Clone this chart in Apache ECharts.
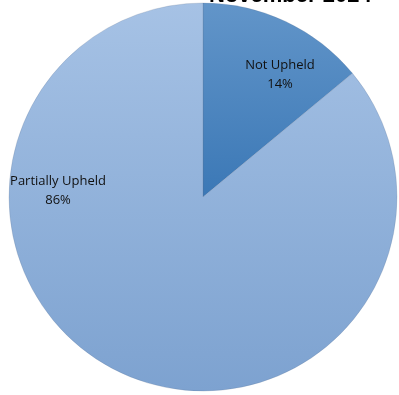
<!DOCTYPE html>
<html><head><meta charset="utf-8">
<script src="https://cdn.jsdelivr.net/npm/echarts@6/dist/echarts.min.js"></script>
<style>html,body{margin:0;padding:0;background:#fff}#c{width:399px;height:395px}</style>
</head><body><div id="c"></div>
<script>
const titleText = 'November 2024';
const categories = ['Not Upheld', 'Partially Upheld'];
const values = [14, 86];

const colors = [
  {type:'linear',x:0,y:0,x2:0,y2:1,colorStops:[{offset:0,color:'#6295c9'},{offset:1,color:'#3b78b6'}]},
  {type:'linear',x:0,y:0,x2:0,y2:1,colorStops:[{offset:0,color:'#a6c2e5'},{offset:1,color:'#7da2d0'}]}
];
const labelPos = [[280, 75], [58, 191]];

const chart = echarts.init(document.getElementById('c'));
chart.setOption({
  animation: false,
  title: {
    text: titleText, left: 204, top: -20,
    textStyle: {fontFamily: 'Liberation Sans', fontWeight: 'bold', fontSize: 22, color: '#000'}
  },
  series: [{
    type: 'pie',
    center: [203, 197],
    radius: 194,
    startAngle: 90,
    clockwise: true,
    data: categories.map((c, i) => ({name: c, value: values[i], itemStyle: {color: colors[i]}})),
    itemStyle: {borderColor: 'rgba(90,110,140,0.35)', borderWidth: 0.6},
    label: {
      show: true, position: 'inside',
      formatter: p => p.name + '\n' + p.value + '%',
      fontFamily: 'Open Sans', fontSize: 13, lineHeight: 19, color: '#111', align: 'center'
    },
    labelLine: {show: false},
    labelLayout: p => ({x: labelPos[p.dataIndex][0], y: labelPos[p.dataIndex][1], align: 'center', verticalAlign: 'middle'}),
    emphasis: {disabled: true}
  }]
});
</script></body></html>
